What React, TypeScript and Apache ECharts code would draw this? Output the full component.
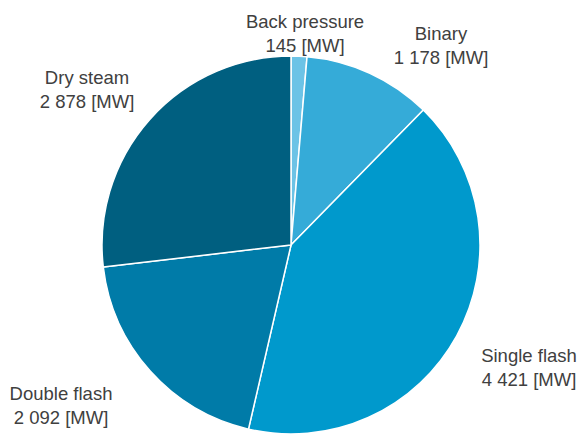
import React, { useEffect, useRef } from "react";
import * as echarts from "echarts";

const categories = ["Back pressure", "Binary", "Single flash", "Double flash", "Dry steam"];
const values = [145, 1178, 4421, 2092, 2878];
const valueLabels = ["145", "1 178", "4 421", "2 092", "2 878"];
const colors = ["#6cc3e6", "#35abd8", "#0099cc", "#007ba8", "#005f80"];
const labelPos = [
  { x: 305, y: 33 },
  { x: 441, y: 45 },
  { x: 529, y: 367 },
  { x: 61, y: 405 },
  { x: 87, y: 89 },
];

export default function App() {
  const ref = useRef<HTMLDivElement>(null);
  useEffect(() => {
    const chart = echarts.init(ref.current!, null, { renderer: "svg" });
    chart.setOption({
      animation: false,
      backgroundColor: "#ffffff",
      series: [
        {
          type: "pie",
          center: [291, 245],
          radius: [0, 189],
          startAngle: 90,
          clockwise: true,
          data: categories.map((c, i) => ({
            name: c,
            value: values[i],
            itemStyle: { color: colors[i] },
          })),
          itemStyle: { borderColor: "#ffffff", borderWidth: 1.5 },
          label: {
            show: true,
            position: "outside",
            formatter: (p: any) => `${p.name}\n${valueLabels[p.dataIndex]} [MW]`,
            color: "#404040",
            fontFamily: "Liberation Sans, Arial, sans-serif",
            fontSize: 18.5,
            lineHeight: 24,
            align: "center",
            overflow: "none",
            width: 200,
          },
          labelLine: { show: false },
          labelLayout: (params: any) => {
            const p = labelPos[params.dataIndex];
            return { x: p.x, y: p.y, align: "center", verticalAlign: "middle" };
          },
          emphasis: { disabled: true },
        },
      ],
    });
    return () => chart.dispose();
  }, []);
  return (
    <div
      ref={ref}
      style={{ width: 585, height: 435, position: "absolute", left: 0, top: 0 }}
    />
  );
}
